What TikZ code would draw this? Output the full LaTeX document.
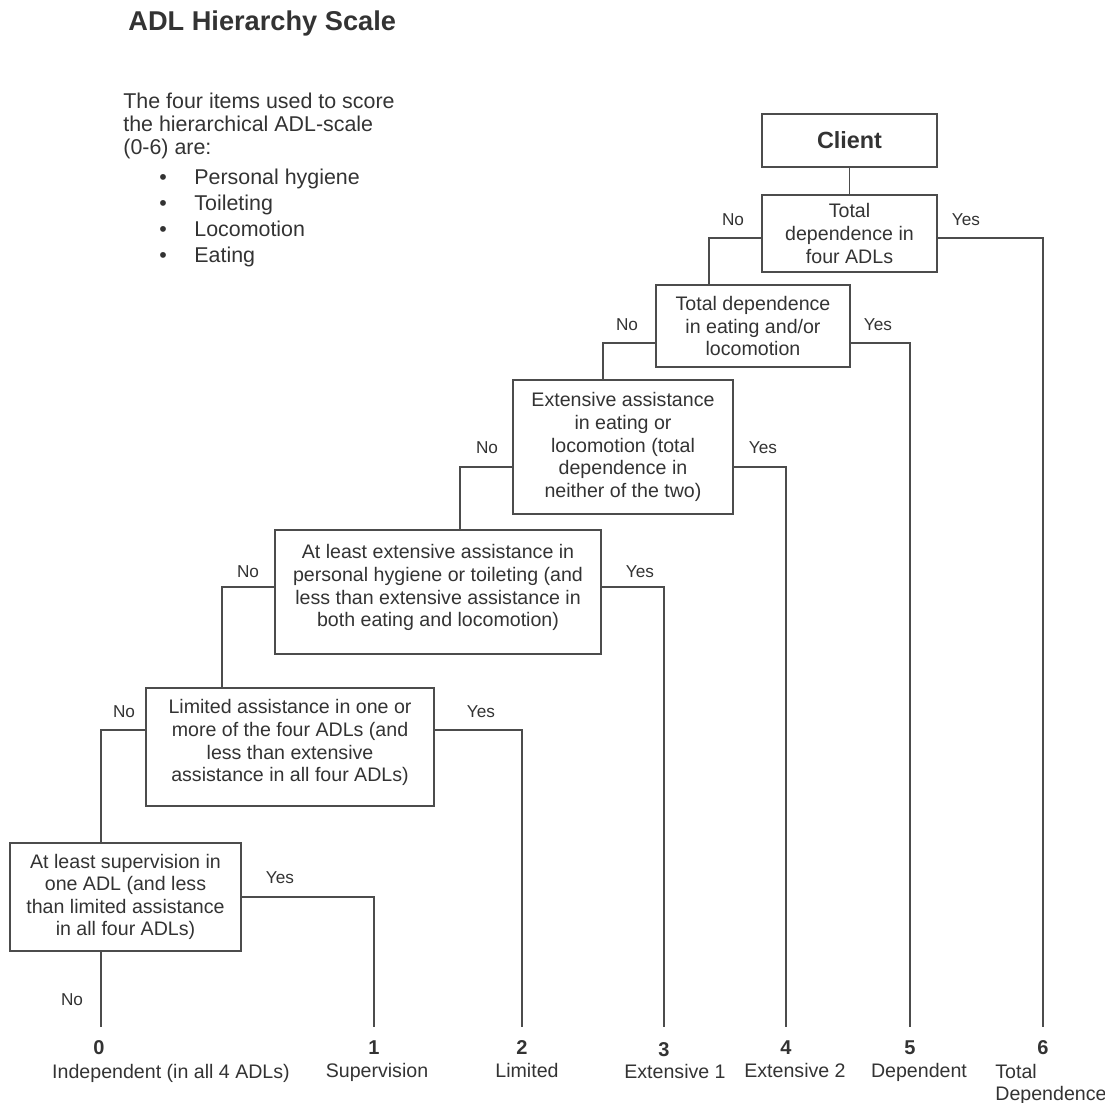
\documentclass[tikz,border=0pt]{standalone}
\usepackage{fontspec}
\setmainfont{Liberation Sans}
\usetikzlibrary{positioning}

\definecolor{inkgray}{gray}{0.2}
\definecolor{linegray}{gray}{0.3}

\begin{document}
\begin{tikzpicture}[x=0.5pt, y=-0.5pt,
  box/.style={draw=linegray, line width=0.9pt, rectangle, inner sep=0pt, align=center, text=inkgray, font=\fontsize{9.8}{11.3}\selectfont},
  link/.style={draw=linegray, line width=0.9pt},
  answer/.style={text=inkgray, inner sep=0pt, font=\fontsize{8.6}{10}\selectfont},
  score/.style={text=inkgray, inner sep=1pt, font=\fontsize{10}{12}\selectfont\bfseries},
  scorename/.style={text=inkgray, inner sep=1pt, align=left, font=\fontsize{9.8}{11.3}\selectfont}]

\useasboundingbox (0,0) rectangle (1105,1103);

% Title and item list
\node[anchor=west, inner sep=0pt, text=inkgray, font=\fontsize{13.6}{16}\selectfont\bfseries] (title) at (128,23) {ADL Hierarchy Scale};
\node[anchor=north west, inner sep=0pt, align=left, text=inkgray, font=\fontsize{10.7}{11.5}\selectfont] (intro) at (123,93) {The four items used to score\\the hierarchical ADL-scale\\(0-6) are:};
\node[anchor=north west, inner sep=0pt, align=left, text=inkgray, font=\fontsize{10.7}{13}\selectfont] (items) at (159,169) {\makebox[17.5pt][l]{\textbullet}Personal hygiene\\\makebox[17.5pt][l]{\textbullet}Toileting\\\makebox[17.5pt][l]{\textbullet}Locomotion\\\makebox[17.5pt][l]{\textbullet}Eating};

% Decision boxes
\node[box, minimum width=87.5pt, minimum height=26.5pt, font=\fontsize{11.7}{14}\selectfont\bfseries] (client) at (849.5,140.5) {Client};
\node[box, minimum width=87.5pt, minimum height=38.5pt] (adl4) at (849.5,233.5) {Total\\dependence in\\four ADLs};
\node[box, minimum width=97pt, minimum height=41pt] (eatloc) at (753,326) {Total dependence\\in eating and/or\\locomotion};
\node[box, minimum width=110pt, minimum height=67pt] (extel) at (623,447) {Extensive assistance\\in eating or\\locomotion (total\\dependence in\\neither of the two)};
\node[box, minimum width=163pt, minimum height=62pt] (exthyg) at (438,592) {At least extensive assistance in\\personal hygiene or toileting (and\\less than extensive assistance in\\both eating and locomotion)\\[-5pt]};
\node[box, minimum width=144pt, minimum height=59pt] (limited) at (290,747) {Limited assistance in one or\\more of the four ADLs (and\\less than extensive\\assistance in all four ADLs)\\[-5pt]};
\node[box, minimum width=115.5pt, minimum height=54pt] (superv) at (125.5,897) {At least supervision in\\one ADL (and less\\than limited assistance\\in all four ADLs)};

% Scores
\node[score] (s0) at (99,1048) {0};
\node[score] (s1) at (374,1048) {1};
\node[score] (s2) at (522,1048) {2};
\node[score] (s3) at (664,1050) {3};
\node[score] (s4) at (786,1048) {4};
\node[score] (s5) at (910,1048) {5};
\node[score] (s6) at (1043,1048) {6};

\node[scorename, below=2pt of s0, xshift=36pt] (l0) {Independent (in all 4 ADLs)};
\node[scorename, below=2pt of s1, xshift=1.5pt] (l1) {Supervision};
\node[scorename, below=2pt of s2, xshift=2.5pt] (l2) {Limited};
\node[scorename, below=1pt of s3, xshift=5.5pt] (l3) {Extensive 1};
\node[scorename, below=2pt of s4, xshift=4.5pt] (l4) {Extensive 2};
\node[scorename, below=2pt of s5, xshift=4.5pt] (l5) {Dependent};
\node[scorename, below=2pt of s6, anchor=north west, xshift=-25pt] (l6) {Total\\Dependence};

% Turning points
\coordinate (no1) at (709,238);
\coordinate (yes1) at (1043,238);
\coordinate (no2) at (603,343);
\coordinate (yes2) at (910,343);
\coordinate (no3) at (460,467);
\coordinate (yes3) at (786,467);
\coordinate (no4) at (222,587);
\coordinate (yes4) at (664,587);
\coordinate (no5) at (101,730);
\coordinate (yes5) at (522,730);
\coordinate (yes6) at (374,897);

% Connectors
\draw[link] (client) -- (adl4);
\draw[link] (adl4.west |- no1) -| (no1 |- eatloc.north);
\draw[link, shorten >=6pt] (adl4.east |- yes1) -| (s6.north);
\draw[link] (eatloc.west |- no2) -| (no2 |- extel.north);
\draw[link, shorten >=6pt] (eatloc.east |- yes2) -| (s5.north);
\draw[link] (extel.west |- no3) -| (no3 |- exthyg.north);
\draw[link, shorten >=6pt] (extel.east |- yes3) -| (s4.north);
\draw[link] (exthyg.west |- no4) -| (no4 |- limited.north);
\draw[link, shorten >=7pt] (exthyg.east |- yes4) -| (s3.north);
\draw[link] (limited.west |- no5) -| (no5 |- superv.north);
\draw[link, shorten >=6pt] (limited.east |- yes5) -| (s2.north);
\draw[link, shorten >=6pt] (superv.east |- yes6) -| (s1.north);
\draw[link, shorten >=6pt] (superv.south -| no5) -- (s0.north -| no5);

% Yes / No labels
\node[answer] (a1n) at (733,220) {No};
\node[answer] (a1y) at (966,220) {Yes};
\node[answer] (a2n) at (627,325) {No};
\node[answer] (a2y) at (878,325) {Yes};
\node[answer] (a3n) at (487,448) {No};
\node[answer] (a3y) at (763,448) {Yes};
\node[answer] (a4n) at (248,572) {No};
\node[answer] (a4y) at (640,572) {Yes};
\node[answer] (a5n) at (124,712) {No};
\node[answer] (a5y) at (481,712) {Yes};
\node[answer] (a6y) at (280,878) {Yes};
\node[answer] (a6n) at (72,1000) {No};

\end{tikzpicture}
\end{document}
